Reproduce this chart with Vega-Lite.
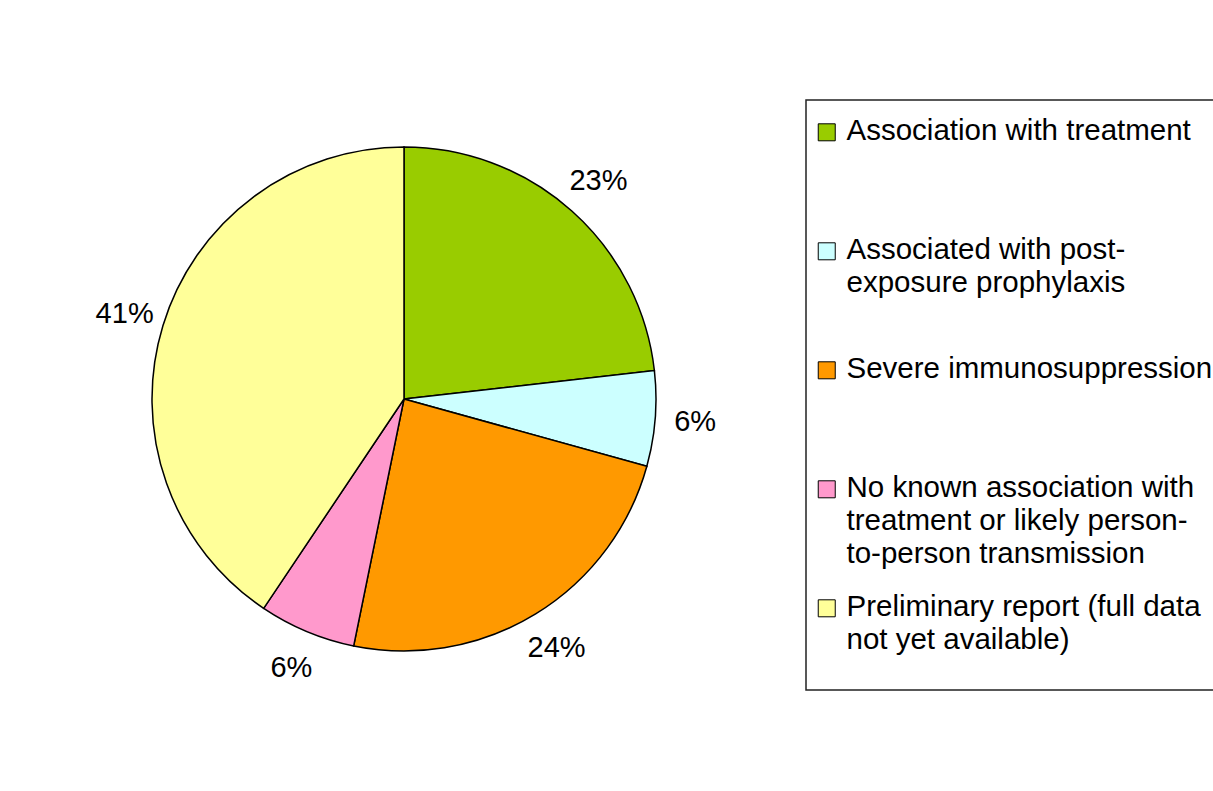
{
  "$schema": "https://vega.github.io/schema/vega-lite/v6.json",
  "autosize": {"type": "none"},
  "width": 792,
  "height": 782,
  "padding": {"left": 8, "top": 8, "right": 413, "bottom": 1},
  "background": "white",
  "config": {"view": {"stroke": null}, "font": "Liberation Sans"},
  "data": {
    "values": [
      {"category": "Association with treatment", "share": 0.232, "idx": 1},
      {"category": "Associated with post-exposure prophylaxis", "share": 0.061, "idx": 2},
      {"category": "Severe immunosuppression", "share": 0.239, "idx": 3},
      {"category": "No known association with treatment or likely person-to-person transmission", "share": 0.062, "idx": 4},
      {"category": "Preliminary report (full data not yet available)", "share": 0.406, "idx": 5}
    ]
  },
  "encoding": {
    "theta": {"field": "share", "type": "quantitative", "stack": true},
    "order": {"field": "idx", "type": "quantitative"}
  },
  "layer": [
    {
      "mark": {"type": "arc", "outerRadius": 252, "stroke": "black", "strokeWidth": 1.5},
      "encoding": {
        "color": {
          "field": "category",
          "type": "nominal",
          "scale": {
            "domain": [
              "Association with treatment",
              "Associated with post-exposure prophylaxis",
              "Severe immunosuppression",
              "No known association with treatment or likely person-to-person transmission",
              "Preliminary report (full data not yet available)"
            ],
            "range": ["#99CC00", "#CCFFFF", "#FF9900", "#FF99CC", "#FFFF99"]
          },
          "legend": {
            "orient": "none",
            "legendX": 798,
            "legendY": 92,
            "title": null,
            "strokeColor": "#222222",
            "fillColor": "white",
            "padding": 2,
            "labelFont": "Liberation Sans",
            "labelFontSize": 29.5,
            "labelColor": "black",
            "labelLimit": 600,
            "labelOffset": 9,
            "labelBaseline": "top",
            "symbolType": "M-0.53,0.83H1.47V2.83H-0.53Z",
            "symbolSize": 289,
            "symbolStrokeColor": "black",
            "symbolStrokeWidth": 1,
            "symbolOpacity": 1,
            "rowPadding": 9,
            "gridAlign": "all",
            "labelExpr": "datum.label == 'Associated with post-exposure prophylaxis' ? ['Associated with post-', 'exposure prophylaxis'] : datum.label == 'No known association with treatment or likely person-to-person transmission' ? ['No known association with', 'treatment or likely person-', 'to-person transmission'] : datum.label == 'Preliminary report (full data not yet available)' ? ['Preliminary report (full data', 'not yet available)', ''] : datum.label",
            "encode": {
              "labels": {"update": {"lineHeight": {"value": 33}}},
              "legend": {"update": {"strokeWidth": {"value": 1.5}}}
            }
          }
        }
      }
    },
    {
      "mark": {"type": "text", "radius": 292, "fontSize": 29, "font": "Liberation Sans", "color": "black"},
      "encoding": {
        "text": {"field": "share", "type": "quantitative", "format": ".0%"}
      }
    }
  ]
}
